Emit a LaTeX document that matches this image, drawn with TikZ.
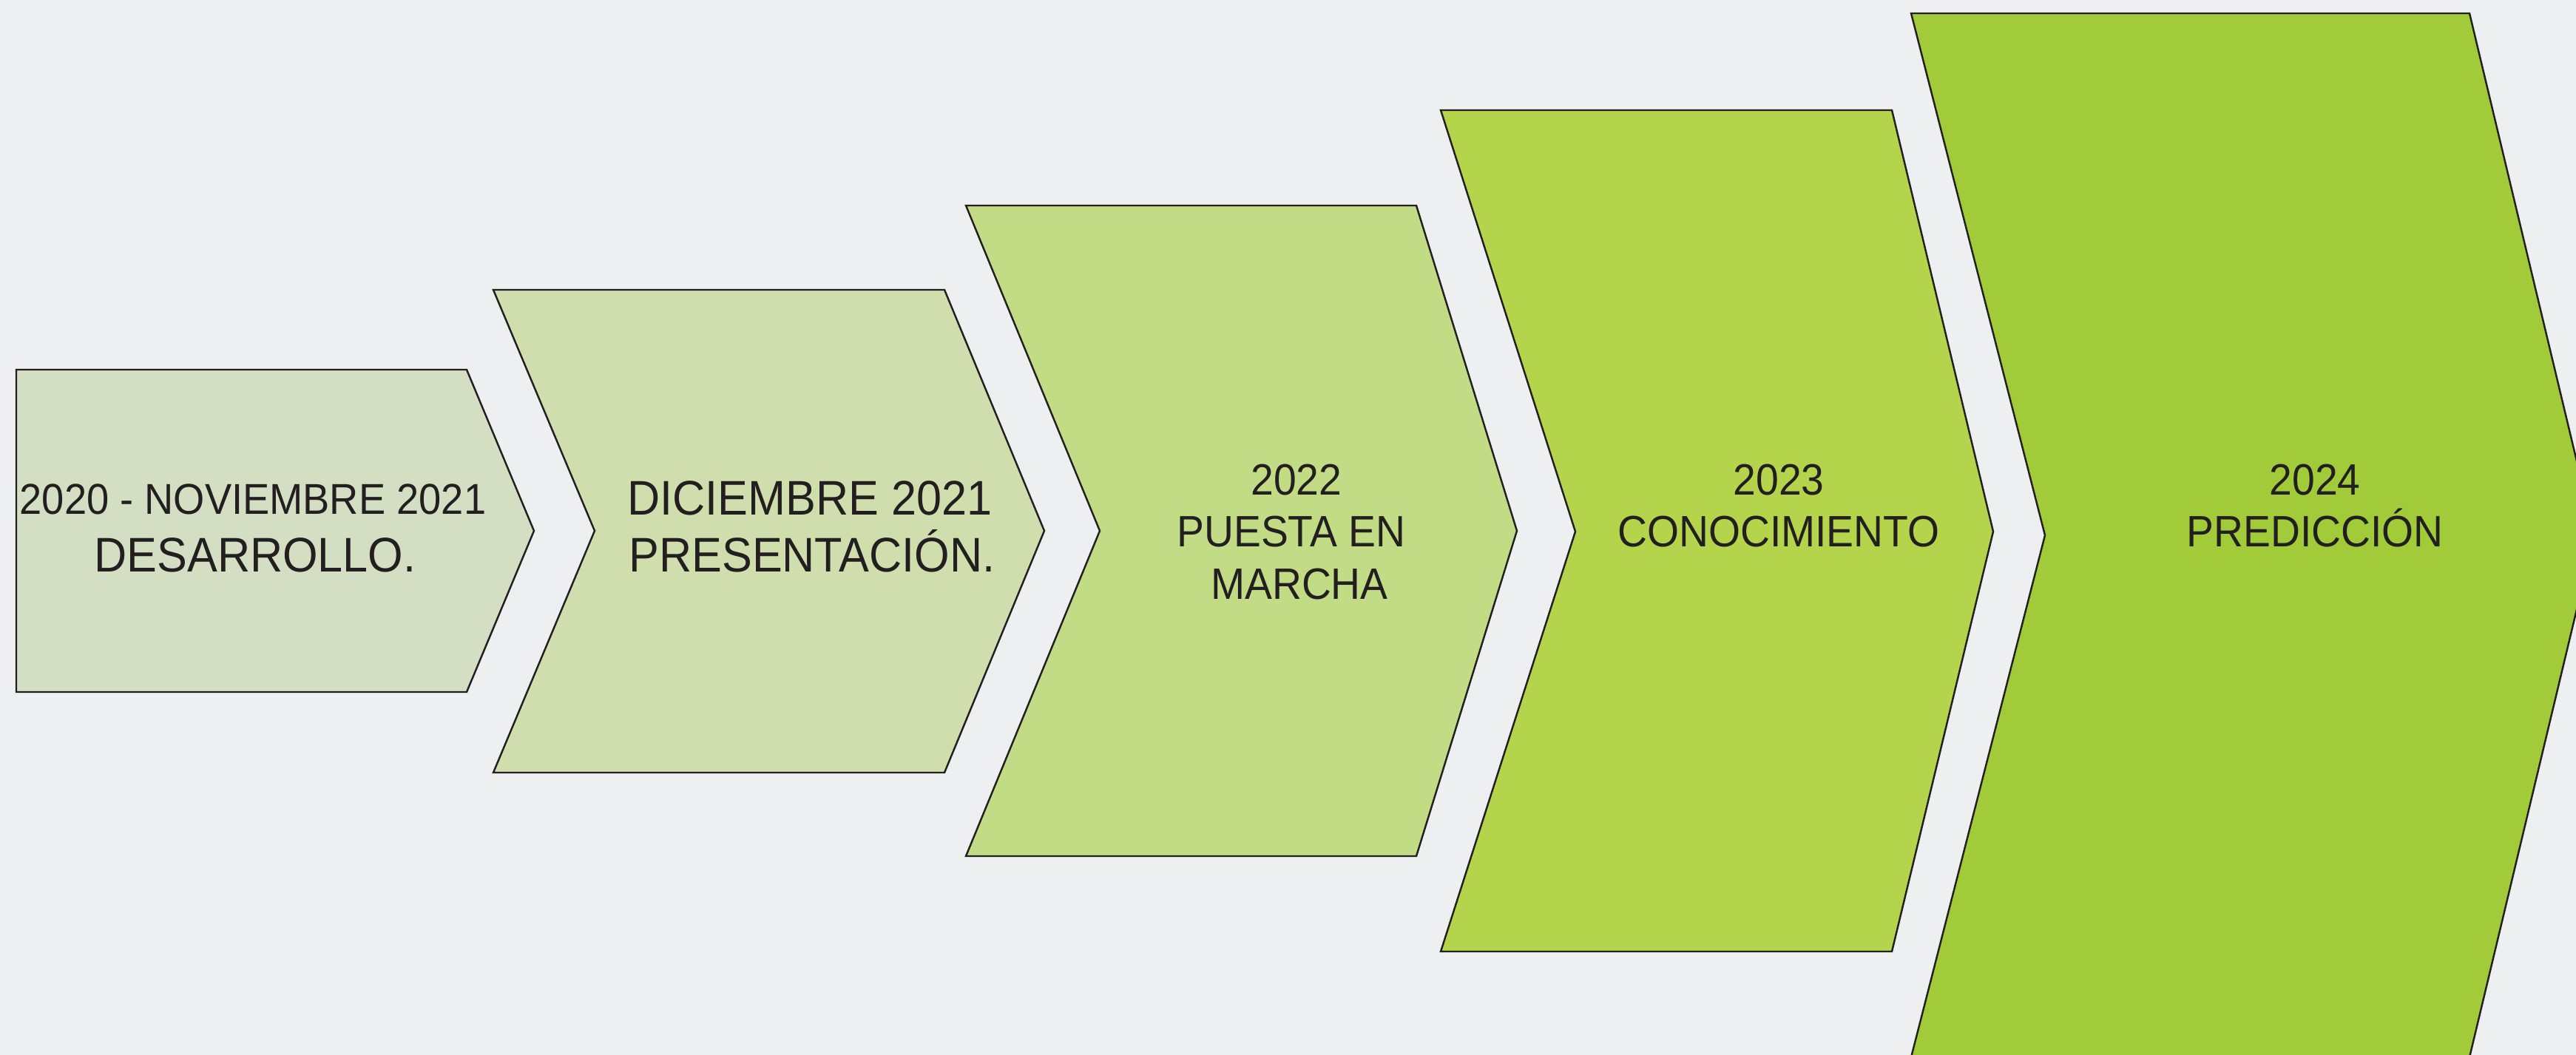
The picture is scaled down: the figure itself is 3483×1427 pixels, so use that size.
\documentclass[tikz,border=0pt]{standalone}
\usepackage{fontspec}
\setmainfont{Liberation Sans}[FakeStretch=0.93]
\definecolor{bg}{HTML}{EEEFF1}
\definecolor{ink}{HTML}{231F20}
\definecolor{stepA}{HTML}{D4DEC2}
\definecolor{stepB}{HTML}{D0DEAE}
\definecolor{stepC}{HTML}{C2DC86}
\definecolor{stepD}{HTML}{B3D44B}
\definecolor{stepE}{HTML}{A1CB38}

\begin{document}
\begin{tikzpicture}[x=0.01cm, y=0.01cm, every node/.style={inner sep=0pt, anchor=base, text=ink}]
\tikzstyle{chev}=[draw=ink, line width=0.7pt, line join=miter]
\tikzstyle{lblsmall}=[font=\fontsize{16.9}{20}\selectfont]
\tikzstyle{lblbig}=[font=\fontsize{18.7}{22}\selectfont]
\useasboundingbox (0,0) rectangle (3483,-1427);
\fill [bg] (0,0) rectangle (3483,-1427);
\clip (0,0) rectangle (3483,-1427);
% 2020 - 2021
\draw [chev, fill=stepA] (22,-500) -- (631,-500) -- (722,-718) -- (631,-936) -- (22,-936) -- cycle;
\draw (342,-695) node [font=\fontsize{16.6}{20}\selectfont] (desA) {2020 - NOVIEMBRE 2021};
\draw (345,-773) node [lblbig] (desB) {DESARROLLO.};
% dic 2021
\draw [chev, fill=stepB] (667,-392) -- (1277,-392) -- (1412,-718) -- (1277,-1045) -- (667,-1045) -- (804,-718) -- cycle;
\draw (1095,-696) node [lblbig] (preA) {DICIEMBRE 2021};
\draw (1098,-773) node [lblbig] (preB) {PRESENTACIÓN.};
% 2022
\draw [chev, fill=stepC] (1306,-278) -- (1915,-278) -- (2051,-718) -- (1915,-1158) -- (1306,-1158) -- (1487,-718) -- cycle;
\draw (1753,-669) node [lblsmall] (pueA) {2022};
\draw (1746,-739) node [lblsmall] (pueB) {PUESTA EN};
\draw (1757,-810) node [lblsmall] (pueC) {MARCHA};
% 2023
\draw [chev, fill=stepD] (1948,-149) -- (2558,-149) -- (2695,-719) -- (2558,-1287) -- (1948,-1287) -- (2130,-719) -- cycle;
\draw (2405,-669) node [lblsmall] (conA) {2023};
\draw (2405,-739) node [lblsmall] (conB) {CONOCIMIENTO};
% 2024
\draw [chev, fill=stepE] (2584,-18) -- (3339,-18) -- (3508,-724) -- (3339,-1430) -- (2584,-1430) -- (2765,-724) -- cycle;
\draw (3130,-669) node [lblsmall] (preD) {2024};
\draw (3130,-739) node [lblsmall] (preE) {PREDICCIÓN};
\end{tikzpicture}
\end{document}
